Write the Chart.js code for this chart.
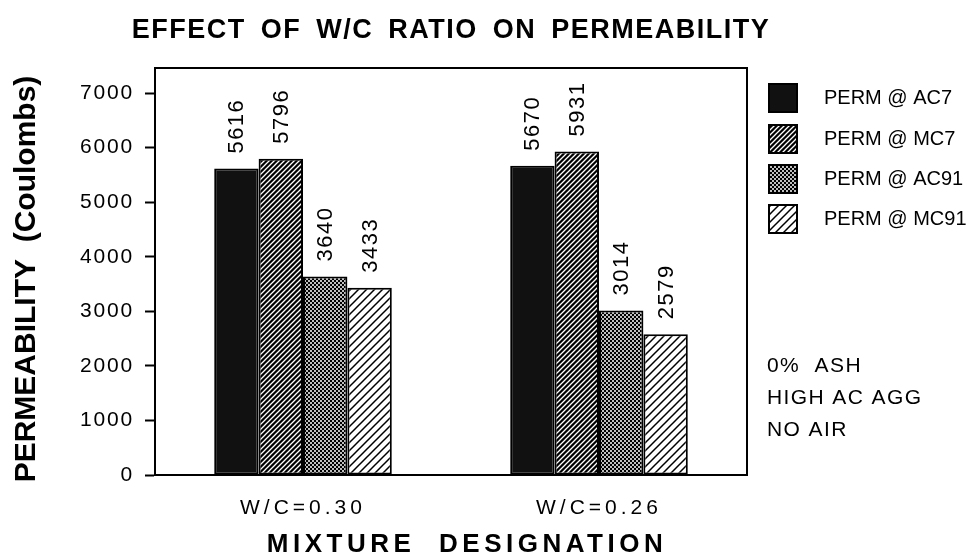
<!DOCTYPE html>
<html><head><meta charset="utf-8">
<script src="https://cdn.jsdelivr.net/npm/chart.js@4"></script>
<style>html,body{margin:0;padding:0;background:#fff;}</style>
</head><body>
<canvas id="c" width="970" height="559" style="width:970px;height:559px;display:block"></canvas>
<script>
// ---- data ----
const categories = ['W/C=0.30', 'W/C=0.26'];
const seriesNames = ['PERM @ AC7', 'PERM @ MC7', 'PERM @ AC91', 'PERM @ MC91'];
const permAC7 = [5616, 5670];
const permMC7 = [5796, 5931];
const permAC91 = [3640, 3014];
const permMC91 = [3433, 2579];
const yTickValues = [0, 1000, 2000, 3000, 4000, 5000, 6000, 7000];
const yMin = 0;
const yMax = 7460;
const chartTitle = 'EFFECT OF W/C RATIO ON PERMEABILITY';
const yTitle = 'PERMEABILITY  (Coulombs)';
const xTitle = 'MIXTURE DESIGNATION';
const notes = ['0%  ASH', 'HIGH AC AGG', 'NO AIR'];

// ---- patterns ----
function tile(size, bg, drawFn) {
  const c = document.createElement('canvas');
  c.width = size; c.height = size;
  const x = c.getContext('2d');
  x.fillStyle = bg; x.fillRect(0, 0, size, size);
  drawFn(x, size);
  return document.createElement('canvas').getContext('2d').createPattern(c, 'repeat');
}
function diag(color, w) {
  return (x, p) => {
    x.strokeStyle = color; x.lineWidth = w; x.lineCap = 'square';
    x.beginPath();
    x.moveTo(0, p); x.lineTo(p, 0);
    x.moveTo(-p / 2, p / 2); x.lineTo(p / 2, -p / 2);
    x.moveTo(p / 2, p * 1.5); x.lineTo(p * 1.5, p / 2);
    x.stroke();
  };
}
const fillAC7 = '#111111';
const fillMC7 = tile(5, '#000', diag('#fff', 1.3));
const fillAC91 = tile(4, '#000', (x, p) => {
  x.fillStyle = '#fff';
  x.beginPath(); x.arc(1, 1, 1.0, 0, Math.PI * 2); x.fill();
  x.beginPath(); x.arc(3, 3, 1.0, 0, Math.PI * 2); x.fill();
});
const fillMC91 = tile(8, '#fff', diag('#000', 1.5));
const fills = [fillAC7, fillMC7, fillAC91, fillMC91];

function spaced(fn, ls) {
  return function (...a) {
    const ctx = this.ctx;
    ctx.save();
    ctx.letterSpacing = ls;
    fn.apply(this, a);
    ctx.restore();
  };
}

const spacingPlugin = {
  id: 'spacing',
  beforeDraw(chart) {
    const sx = chart.scales.x, sy = chart.scales.y;
    if (!sx._wrapped) { sx.drawLabels = spaced(sx.drawLabels, '4px'); sx._wrapped = true; }
    if (!sy._wrapped) { sy.drawLabels = spaced(sy.drawLabels, '1.8px'); sy._wrapped = true; }
  }
};

const framePlugin = {
  id: 'frame',
  afterDatasetsDraw(chart) {
    const { ctx, chartArea: a } = chart;
    ctx.save();
    ctx.strokeStyle = '#000'; ctx.lineWidth = 2;
    ctx.strokeRect(a.left, a.top, a.right - a.left, a.bottom - a.top);
    ctx.restore();
  }
};

const valueLabelPlugin = {
  id: 'valueLabels',
  afterDatasetsDraw(chart) {
    const ctx = chart.ctx;
    ctx.save();
    ctx.fillStyle = '#000';
    ctx.font = '22px "Liberation Sans", Arial, sans-serif';
    ctx.letterSpacing = '1.5px';
    ctx.textAlign = 'left';
    ctx.textBaseline = 'middle';
    chart.data.datasets.forEach((ds, i) => {
      const meta = chart.getDatasetMeta(i);
      meta.data.forEach((bar, j) => {
        ctx.save();
        ctx.translate(bar.x + 1, bar.y - 15);
        ctx.rotate(-Math.PI / 2);
        ctx.fillText(String(ds.data[j]), 0, 0);
        ctx.restore();
      });
    });
    ctx.restore();
  }
};

const textPlugin = {
  id: 'texts',
  afterDraw(chart) {
    const ctx = chart.ctx;
    const a = chart.chartArea;
    ctx.save();
    ctx.fillStyle = '#000';
    // main title
    ctx.font = 'bold 27px "Liberation Sans", Arial, sans-serif';
    ctx.letterSpacing = '1.5px';
    ctx.wordSpacing = '6px';
    ctx.textAlign = 'center';
    ctx.textBaseline = 'middle';
    ctx.fillText(chartTitle, (a.left + a.right) / 2, 31);
    ctx.wordSpacing = '0px';
    // y title
    ctx.save();
    ctx.translate(27, 279);
    ctx.rotate(-Math.PI / 2);
    ctx.font = 'bold 30px "Liberation Sans", Arial, sans-serif';
    ctx.letterSpacing = '0px';
    ctx.fillText(yTitle, 0, 0);
    ctx.restore();
    // x title
    ctx.font = 'bold 26px "Liberation Sans", Arial, sans-serif';
    ctx.letterSpacing = '4.5px';
    ctx.wordSpacing = '12px';
    ctx.fillText(xTitle, 467, 545);
    ctx.wordSpacing = '0px';
    // legend
    ctx.textAlign = 'left';
    ctx.letterSpacing = '0px';
    ctx.font = '20px "Liberation Sans", Arial, sans-serif';
    const rowY = [98, 139, 179, 219];
    chart.data.datasets.forEach((ds, i) => {
      const cy = rowY[i];
      ctx.fillStyle = ds.backgroundColor;
      ctx.fillRect(769, cy - 14, 28, 28);
      ctx.strokeStyle = '#000'; ctx.lineWidth = 2;
      ctx.strokeRect(769, cy - 14, 28, 28);
      ctx.fillStyle = '#000';
      ctx.fillText(ds.label, 824, cy);
    });
    // notes
    ctx.font = '21px "Liberation Sans", Arial, sans-serif';
    ctx.letterSpacing = '1.4px';
    const noteY = [366, 398, 430];
    notes.forEach((t, i) => ctx.fillText(t, 767, noteY[i]));
    ctx.restore();
  }
};

const datasets = [permAC7, permMC7, permAC91, permMC91].map((vals, i) => ({
  label: seriesNames[i],
  data: vals,
  backgroundColor: fills[i],
  borderColor: '#000',
  borderWidth: 2,
  borderSkipped: false,
  categoryPercentage: 0.6,
  barPercentage: 1.0
}));

new Chart(document.getElementById('c'), {
  type: 'bar',
  data: { labels: categories, datasets },
  options: {
    responsive: false,
    animation: false,
    devicePixelRatio: 1,
    layout: { padding: { left: 0, right: 223, top: 68, bottom: 0 } },
    plugins: { legend: { display: false }, title: { display: false }, tooltip: { enabled: false } },
    scales: {
      x: {
        type: 'category',
        grid: { display: false, drawTicks: false },
        border: { display: true, color: '#000', width: 2 },
        ticks: { color: '#000', font: { size: 21, family: '"Liberation Sans", Arial, sans-serif' }, padding: 21, maxRotation: 0 },
        afterFit: s => { s.height = 84; }
      },
      y: {
        min: yMin, max: yMax,
        grid: { display: true, drawOnChartArea: false, drawTicks: true, tickLength: 10, tickWidth: 2, tickColor: '#000' },
        border: { display: true, color: '#000', width: 2 },
        ticks: { color: '#000', font: { size: 21, family: '"Liberation Sans", Arial, sans-serif' }, padding: 11, callback: v => String(v) },
        afterBuildTicks: s => { s.ticks = yTickValues.map(v => ({ value: v })); },
        afterFit: s => { s.width = 155; }
      }
    }
  },
  plugins: [spacingPlugin, framePlugin, valueLabelPlugin, textPlugin]
});
</script>
</body></html>
